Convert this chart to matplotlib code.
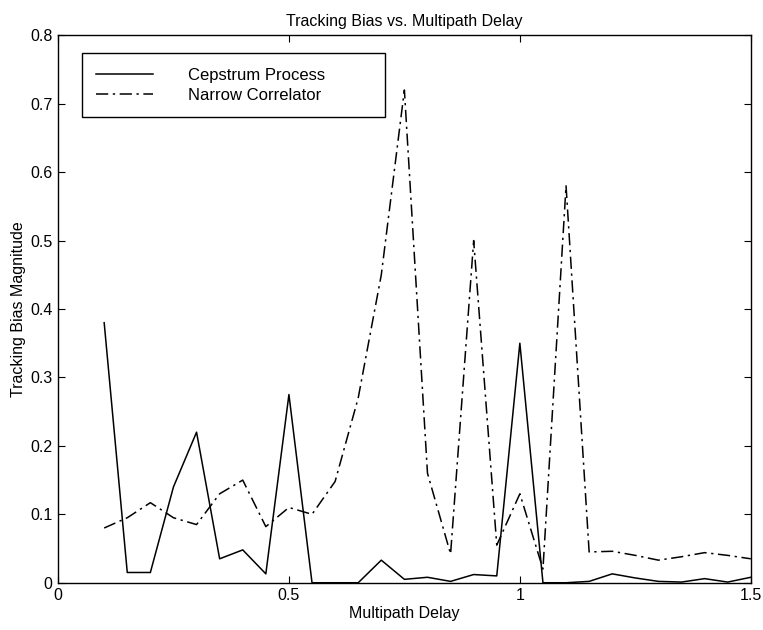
import matplotlib
matplotlib.use("Agg")
import matplotlib.pyplot as plt
from matplotlib.ticker import FuncFormatter

plt.rcParams['font.family'] = ['Liberation Sans Narrow', 'Liberation Sans', 'DejaVu Sans']

delay = [0.10, 0.15, 0.20, 0.25, 0.30, 0.35, 0.40, 0.45, 0.50, 0.55,
         0.60, 0.65, 0.70, 0.75, 0.80, 0.85, 0.90, 0.95, 1.00, 1.05,
         1.10, 1.15, 1.20, 1.25, 1.30, 1.35, 1.40, 1.45, 1.50]

cepstrum = [0.38, 0.015, 0.015, 0.14, 0.22, 0.035, 0.048, 0.013, 0.275, 0.0,
            0.0, 0.0, 0.033, 0.005, 0.008, 0.002, 0.012, 0.010, 0.35, 0.0,
            0.0, 0.002, 0.013, 0.007, 0.002, 0.001, 0.006, 0.001, 0.008]

narrow = [0.080, 0.095, 0.117, 0.095, 0.085, 0.130, 0.150, 0.082, 0.110, 0.100,
          0.148, 0.270, 0.450, 0.720, 0.160, 0.042, 0.500, 0.055, 0.130, 0.020,
          0.580, 0.045, 0.046, 0.040, 0.033, 0.038, 0.044, 0.040, 0.035]

xticks = [0, 0.5, 1, 1.5]
yticks = [0, 0.1, 0.2, 0.3, 0.4, 0.5, 0.6, 0.7, 0.8]

fig = plt.figure(figsize=(7.63, 6.30), dpi=100)
ax = fig.add_axes([0.076, 0.075, 0.908, 0.869])

ax.plot(delay, cepstrum, color='black', linestyle='-', linewidth=1.1,
        label='Cepstrum Process')
ax.plot(delay, narrow, color='black', linestyle=(0, (8, 3, 1.5, 3)), linewidth=1.1,
        label='Narrow Correlator')

ax.set_xlim(0, 1.5)
ax.set_ylim(0, 0.8)
ax.set_xticks(xticks)
ax.set_yticks(yticks)
fmt = FuncFormatter(lambda v, p: ('%g' % v))
ax.xaxis.set_major_formatter(fmt)
ax.yaxis.set_major_formatter(fmt)
ax.tick_params(direction='in', top=True, right=True, length=5, width=0.8,
               labelsize=11.5, pad=4)
for s in ax.spines.values():
    s.set_linewidth(1.0)

ax.set_title('Tracking Bias vs. Multipath Delay', fontsize=11.5, pad=7)
ax.set_xlabel('Multipath Delay', fontsize=11.5, labelpad=2)
ax.set_ylabel('Tracking Bias Magnitude', fontsize=11.5, labelpad=3)

# legend box stretched to a fixed width in axes coordinates
leg = ax.legend(loc='upper left', bbox_to_anchor=(0.0346, 0.967, 0.437, 0.0),
                mode='expand', fontsize=12, frameon=True, fancybox=False,
                edgecolor='black', framealpha=1, handlelength=3.4,
                handletextpad=2.1, borderpad=0.85, labelspacing=0.3,
                borderaxespad=0)
leg.get_frame().set_linewidth(1.0)

fig.savefig('out.png', dpi=100)
